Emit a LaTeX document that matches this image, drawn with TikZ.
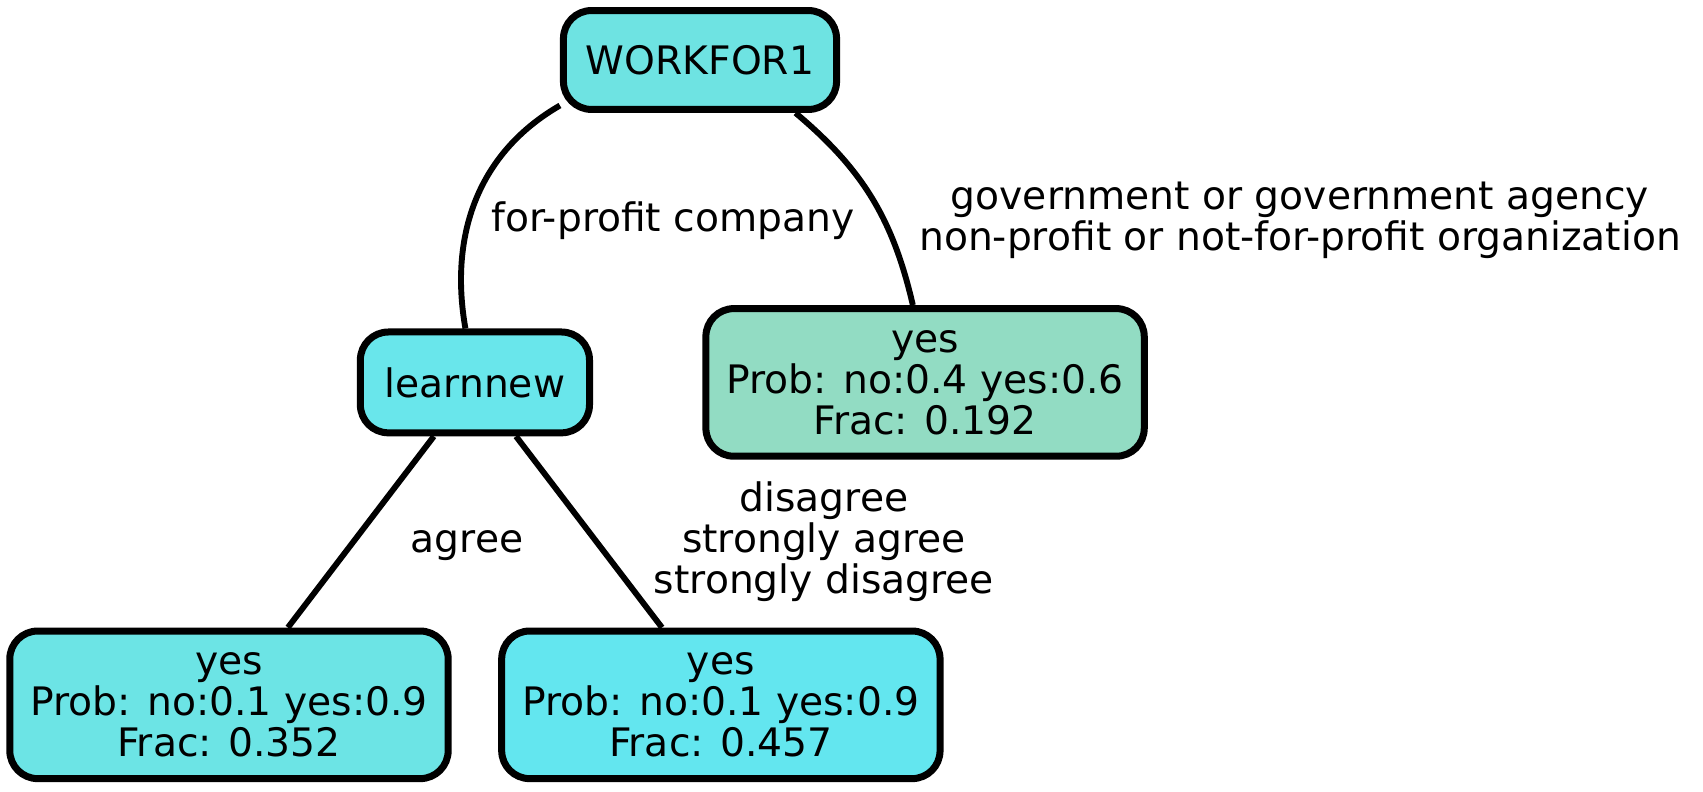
\documentclass[tikz,border=0pt]{standalone}
\usepackage{fontspec}
\setmainfont{DejaVu Sans}
\usepackage{tikz}
\definecolor{rootfill}{HTML}{6EE3E2}
\definecolor{learnfill}{HTML}{69E6EB}
\definecolor{leafa}{HTML}{6CE4E5}
\definecolor{leafb}{HTML}{63E6EF}
\definecolor{leafc}{HTML}{92DCC3}
\tikzset{
  treenode/.style = {shape=rectangle, rounded corners=10pt,
                     draw, line width=2.5pt, align=center,
                     font=\fontsize{14}{14.6}\selectfont},
  root/.style     = {treenode, fill=rootfill, minimum width=97.5pt, minimum height=35.3pt},
  split/.style    = {treenode, fill=learnfill, minimum width=81.8pt, minimum height=36pt},
  leaf/.style     = {treenode, minimum width=156.5pt, minimum height=52.7pt},
  edgelabel/.style = {align=center, inner sep=0pt,
                     font=\fontsize{14}{14.6}\selectfont}
}

\begin{document}
\begin{tikzpicture}
 [x=0.357pt, y=0.357pt,
  level distance=115.1pt,
  level 1/.style={sibling distance=160.7pt},
  level 2/.style={sibling distance=175.6pt,
    edge from parent path={(\tikzparentnode) -- (\tikzchildnode)}},
  edge from parent/.style={draw, line width=2.1pt}]

 \useasboundingbox (0,0) rectangle (1703,-792);

 \node [root] (workfor) at (700,-60) {WORKFOR1}
    child [edge from parent path={(\tikzparentnode.198) to[out=210,in=100] (\tikzchildnode)}]
      { node [split] (learnnew) {learnnew}
      child { node [leaf, fill=leafa] (leafagree) {yes\\Prob: no:0.1 yes:0.9\\Frac: 0.352} }
      child { node [leaf, fill=leafb] (leafother) {yes\\Prob: no:0.1 yes:0.9\\Frac: 0.457} } }
    child [edge from parent path={(\tikzparentnode.-29) to[out=-40,in=103] (\tikzchildnode.99)}]
      { node [leaf, fill=leafc] (leafgov) {yes\\Prob: no:0.4 yes:0.6\\Frac: 0.192} };

 % edge labels
 \node [edgelabel, anchor=base] (lblprofit) at (673,-232) {for-profit company};
 \node [edgelabel] (lblgov) at (1300,-220) {government or government agency\\non-profit or not-for-profit organization};
 \node [edgelabel, anchor=base] (lblagree) at (467,-553) {agree};
 \node [edgelabel] (lblother) at (824,-542) {disagree\\strongly agree\\strongly disagree};
\end{tikzpicture}
\end{document}
